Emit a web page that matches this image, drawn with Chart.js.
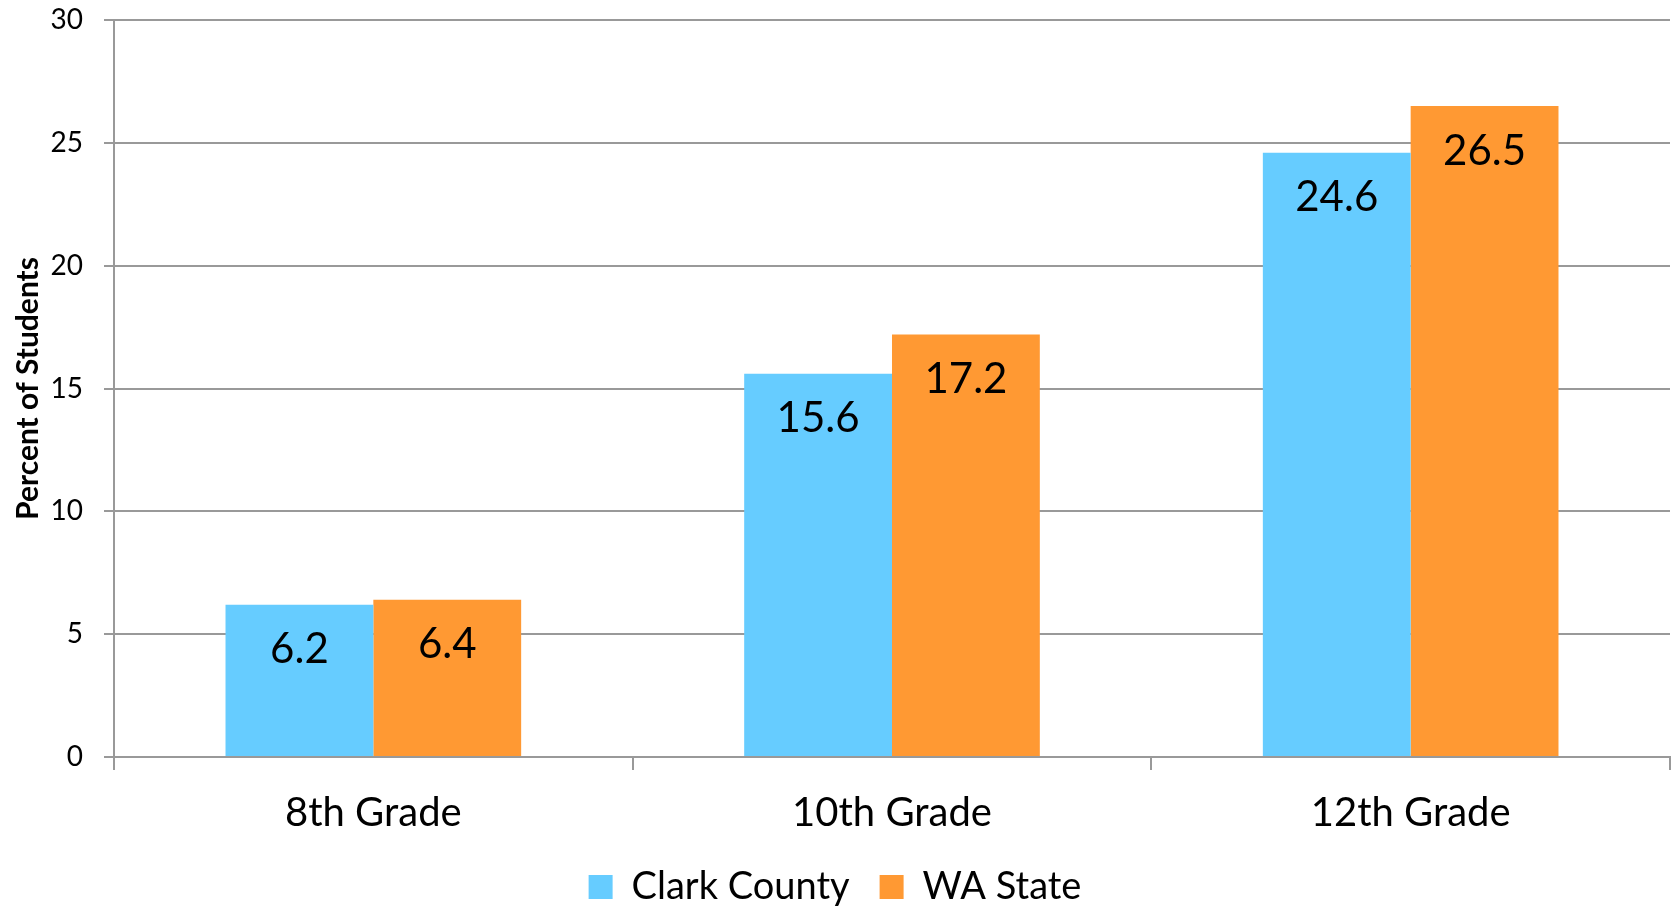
<!DOCTYPE html>
<html lang="en">
<head>
    <meta charset="UTF-8">
    <title>Percent of Students by Grade</title>
    <script src="https://cdn.jsdelivr.net/npm/chart.js"></script>
    <style>
        * { margin: 0; padding: 0; box-sizing: border-box; }
        body { background: white; }
        .wrap { width: 1679px; height: 911px; }
    </style>
</head>
<body>
    <div class="wrap">
        <canvas id="barChart" width="1679" height="911"></canvas>
    </div>

<script>
    // data
    var grades = ["8th Grade", "10th Grade", "12th Grade"];
    var clarkCounty = [6.2, 15.6, 24.6];
    var waState = [6.4, 17.2, 26.5];
    var yTicks = [0, 5, 10, 15, 20, 25, 30];

    var FONT = "Lato, 'Open Sans', sans-serif";
    var GRID = "#999999";

    // value labels drawn inside the top of each bar
    var barLabels = {
        id: "barLabels",
        afterDatasetsDraw: function(chart) {
            var ctx = chart.ctx;
            ctx.save();
            ctx.font = "42px " + FONT;
            ctx.fillStyle = "#000";
            ctx.textAlign = "center";
            ctx.textBaseline = "middle";
            chart.data.datasets.forEach(function(ds, i) {
                chart.getDatasetMeta(i).data.forEach(function(bar, j) {
                    ctx.fillText(ds.data[j].toFixed(1), bar.x, bar.y + 45);
                });
            });
            ctx.restore();
        }
    };

    var ctx1 = document.getElementById("barChart").getContext("2d");
    var barChart = new Chart(ctx1, {
        type: "bar",
        data: {
            labels: grades,
            datasets: [{
                label: "Clark County",
                data: clarkCounty,
                backgroundColor: "#66CCFF"
            }, {
                label: "WA State",
                data: waState,
                backgroundColor: "#FF9933"
            }]
        },
        options: {
            responsive: false,
            animation: false,
            categoryPercentage: 0.57,
            barPercentage: 1.0,
            layout: { padding: { top: 20, right: 9, left: 0, bottom: -5 } },
            plugins: {
                tooltip: { enabled: false },
                legend: {
                    position: "bottom",
                    labels: {
                        boxWidth: 24,
                        boxHeight: 24,
                        padding: 30,
                        color: "#000",
                        font: { family: FONT, size: 38 }
                    }
                }
            },
            scales: {
                x: {
                    afterFit: function(scale) { scale.height = 81; },
                    grid: {
                        offset: true,
                        drawOnChartArea: false,
                        drawTicks: true,
                        tickLength: 13,
                        color: GRID,
                        lineWidth: 2
                    },
                    border: { color: GRID, width: 2 },
                    ticks: {
                        color: "#000",
                        padding: 19,
                        font: { family: FONT, size: 40 }
                    }
                },
                y: {
                    min: 0,
                    max: 30,
                    afterFit: function(scale) {
                        scale.width = 114;
                        scale.paddingTop = 0;
                        scale.paddingBottom = 0;
                    },
                    afterBuildTicks: function(scale) {
                        scale.ticks = yTicks.map(function(v) { return { value: v }; });
                    },
                    grid: {
                        color: GRID,
                        lineWidth: 2,
                        drawTicks: true,
                        tickLength: 10
                    },
                    border: { color: GRID, width: 2 },
                    ticks: {
                        color: "#000",
                        padding: 21,
                        font: { family: FONT, size: 28 }
                    },
                    title: {
                        display: true,
                        text: "Percent of Students",
                        color: "#000",
                        padding: { top: 10, bottom: 0 },
                        font: { family: FONT, size: 30, weight: "bold" }
                    }
                }
            }
        },
        plugins: [barLabels]
    });
</script>

</body>
</html>
